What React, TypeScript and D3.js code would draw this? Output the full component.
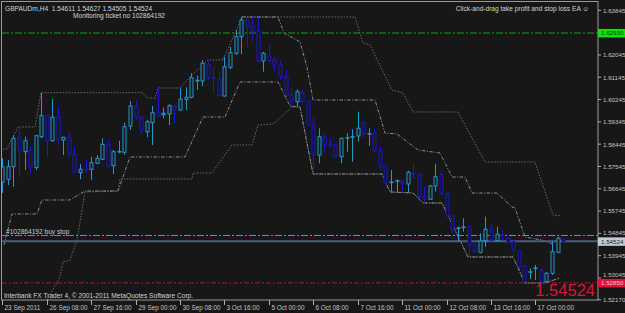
import React from "react";
import * as d3 from "d3";

const W = 625;
const H = 313;

const headerText = "GBPAUDm,H4  1.54611 1.54627 1.54505 1.54524";
const ticketText = "Monitoring ticket no 102864192";
const eaText = "Click-and-drag take profit and stop loss EA \u263A";
const orderText = "#102864192 buy stop";
const footerText = "Interbank FX Trader 4, \u00A9 2001-2011 MetaQuotes Software Corp.";
const bigPriceText = "1.54524";

const opens = [1.56919,1.57028,1.57536,1.58722,1.58141,1.58210,1.57496,1.58747,1.59594,1.58585,
1.59529,1.58613,1.58722,1.58037,1.57294,1.57415,1.57431,1.57673,1.57835,1.58452,
1.57577,1.58141,1.58117,1.59178,1.59985,1.59529,1.58948,1.59311,1.59731,1.59634,
1.59662,1.59985,1.59824,1.60255,1.60336,1.61006,1.60994,1.61667,1.61115,1.61074,
1.60388,1.61546,1.62111,1.62780,1.63454,1.63212,1.62982,1.61800,1.62002,1.61841,
1.61639,1.61167,1.60429,1.60158,1.60538,1.60187,1.59219,1.58008,1.58722,1.58452,
1.58412,1.57940,1.58682,1.58734,1.58775,1.59327,1.58855,1.58908,1.58182,1.57565,
1.56907,1.56960,1.56960,1.56838,1.57270,1.57230,1.56326,1.56221,1.56758,1.57230,
1.56435,1.55548,1.55051,1.55092,1.55116,1.54378,1.54083,1.54551,1.55051,1.54551,
1.54781,1.54648,1.54511,1.54136,1.53531,1.53289,1.53438,1.53341,1.52897,1.53236,
1.54083,1.54611];

const highs = [1.57887,1.57807,1.58815,1.59150,1.58747,1.58371,1.58815,1.60521,1.59650,1.60267,
1.59932,1.58722,1.58924,1.58343,1.57645,1.57807,1.57940,1.58008,1.58682,1.58613,
1.58210,1.58585,1.59311,1.60187,1.60187,1.59622,1.59420,1.59985,1.60699,1.59916,
1.60054,1.60025,1.60699,1.60739,1.61304,1.61207,1.61841,1.61841,1.61546,1.61369,
1.61974,1.62377,1.63051,1.63587,1.63482,1.63563,1.63523,1.62175,1.62446,1.61949,
1.61841,1.61437,1.60764,1.60659,1.60630,1.60227,1.59529,1.59085,1.58855,1.58682,
1.58452,1.58706,1.58884,1.59045,1.59755,1.59380,1.59085,1.59045,1.58343,1.57605,
1.57403,1.57028,1.57000,1.57375,1.57673,1.57294,1.56730,1.56798,1.57645,1.57335,
1.56488,1.55588,1.55116,1.55455,1.55144,1.54446,1.54850,1.55519,1.55225,1.55116,
1.54955,1.54713,1.54579,1.54176,1.53571,1.53438,1.53571,1.53438,1.53301,1.54511,
1.54713,1.54627];

const lows = [1.56475,1.56798,1.56730,1.57133,1.57403,1.57294,1.57403,1.58682,1.57940,1.58545,
1.58412,1.58008,1.57940,1.57270,1.57028,1.57270,1.57000,1.57645,1.57807,1.57512,
1.57242,1.58077,1.58008,1.59017,1.59420,1.58815,1.58722,1.58412,1.59553,1.59489,
1.59219,1.59287,1.59795,1.59824,1.60296,1.60630,1.60792,1.60994,1.60469,1.60368,
1.60360,1.61465,1.62042,1.62071,1.62377,1.62579,1.61772,1.61369,1.61708,1.61369,
1.61034,1.60336,1.59957,1.59957,1.60094,1.59178,1.57270,1.57673,1.58077,1.58319,
1.57915,1.57673,1.58141,1.57738,1.58545,1.58722,1.58371,1.58077,1.57375,1.56826,
1.56528,1.56488,1.56463,1.56488,1.57068,1.56221,1.56060,1.56193,1.56528,1.56395,
1.55519,1.54850,1.54511,1.54914,1.53906,1.54043,1.54043,1.54309,1.54511,1.54511,
1.54579,1.54446,1.53773,1.53438,1.52833,1.52994,1.52966,1.52833,1.52845,1.53168,
1.54043,1.54505];

const closes = [1.57524,1.57536,1.58682,1.58182,1.58585,1.57512,1.58787,1.59594,1.58585,1.59529,
1.58642,1.58722,1.58049,1.57310,1.57431,1.57391,1.57698,1.57875,1.58440,1.57536,
1.58141,1.58150,1.59150,1.59985,1.59529,1.58989,1.59352,1.59715,1.59582,1.59691,
1.59997,1.59824,1.60255,1.60336,1.61127,1.61022,1.61708,1.61127,1.61102,1.60401,
1.61570,1.62135,1.62780,1.63454,1.63212,1.62982,1.61800,1.62111,1.61812,1.61639,
1.61167,1.60429,1.60158,1.60562,1.60158,1.59219,1.58008,1.58747,1.58412,1.58343,
1.57940,1.58682,1.58706,1.58747,1.59085,1.58884,1.58868,1.58182,1.57536,1.56867,
1.56919,1.56972,1.56867,1.57310,1.57242,1.56326,1.56221,1.56758,1.57133,1.56463,
1.55548,1.54983,1.55064,1.55104,1.54378,1.54107,1.54539,1.55011,1.54579,1.54809,
1.54769,1.54471,1.54176,1.53502,1.52897,1.53301,1.53450,1.52897,1.53236,1.54107,
1.54648,1.54524];

const xTickBars = [0, 8, 16, 24, 32, 40, 48, 56, 64, 72, 80, 88, 96];
const xTickLabels = ["23 Sep 2011","26 Sep 08:00","27 Sep 16:00","29 Sep 00:00","30 Sep 08:00","3 Oct 16:00","5 Oct 00:00","6 Oct 08:00","7 Oct 16:00","11 Oct 00:00","12 Oct 08:00","13 Oct 16:00","17 Oct 00:00"];
const yTickLabels = ["1.63845","1.62045","1.61145","1.60245","1.59345","1.58445","1.57545","1.56645","1.55745","1.54845","1.53945","1.53045","1.52170"];

const takeProfit = 1.6293;
const buyStop = 1.54761;
const bidPrice = 1.54524;
const stopLoss = 1.5285;

// channel lines: [bar index, price]
const upperSlow: [number, number][] = [[-0.41,1.5825],[0.85,1.5825],[2.83,1.59138],[5.89,1.59138],[6.97,1.60521],[25.16,1.60521],[26.24,1.60308],[27.5,1.60308],[28.04,1.60711],[32.0,1.60711],[34.7,1.61357],[37.04,1.61841],[39.74,1.61841],[43.17,1.63575],[63.51,1.63575],[64.96,1.62526],[66.22,1.62446],[70.18,1.6063],[72.16,1.60509],[73.96,1.59743],[82.06,1.59743],[86.92,1.57726],[95.93,1.57726],[99.17,1.55588],[100.61,1.55548]];
const upperFast: [number, number][] = [[43.17,1.63575],[49.65,1.63575],[50.73,1.6293],[53.61,1.62567],[54.87,1.61558],[55.95,1.60227],[67.12,1.60227],[68.92,1.58896],[71.08,1.58855],[74.86,1.5821],[78.82,1.58089],[80.98,1.57121],[83.32,1.57121],[84.58,1.56475],[89.08,1.56475],[91.79,1.55911],[92.33,1.5587],[94.13,1.547],[97.19,1.54579],[99.17,1.54418]];
const lowerFast: [number, number][] = [[0.31,1.54378],[0.85,1.54862],[1.75,1.55628],[6.25,1.55628],[7.15,1.56193],[12.19,1.56193],[14.89,1.56556],[20.84,1.56556],[23.0,1.57928],[32.9,1.57928],[36.14,1.59541],[40.1,1.59541],[42.8,1.60953],[49.65,1.60953],[51.81,1.59985],[53.61,1.59945],[55.95,1.57242],[68.38,1.57242],[69.82,1.56516],[73.96,1.56475],[75.76,1.56072],[79.18,1.56072],[83.86,1.53894],[91.97,1.53894],[94.13,1.52845],[97.73,1.52845],[100.43,1.53047]];
const lowerSlow: [number, number][] = [[8.05,1.52159],[10.39,1.53087],[10.93,1.53692],[12.19,1.53773],[13.45,1.54579],[14.89,1.56516],[20.84,1.56556],[21.2,1.5704],[34.16,1.5704],[34.34,1.57282],[37.76,1.57282],[41.36,1.58412],[44.97,1.58412],[46.05,1.59219],[48.75,1.59259],[52.17,1.59945],[53.61,1.59945],[55.95,1.57242],[68.38,1.57242],[69.82,1.56516],[73.96,1.56475],[75.76,1.56072],[79.18,1.56072],[83.86,1.53894],[91.97,1.53894],[94.13,1.52845],[97.73,1.52845],[100.43,1.53047]];

const BG = "#171717";
const BULL = "#2198d0";
const BEAR = "#1818c8";
const FONT = "'Liberation Sans', Arial, sans-serif";

export default function App() {
  const x = d3.scaleLinear().domain([0, 101]).range([2.3, 2.3 + 101 * 5.553]);
  const y = d3.scaleLinear().domain([1.5217, 1.63845]).range([299.7, 10.3]);
  const line = d3.line<[number, number]>().x((d) => x(d[0])).y((d) => y(d[1]));
  const L = { left: 2, top: 2, right: 598, bottom: 300 };

  const candles = opens.map((o, i) => {
    const c = closes[i];
    const bull = c >= o;
    const col = bull ? BULL : BEAR;
    const cx = Math.round(x(i)) + 0.5;
    const top = y(Math.max(o, c));
    const bot = y(Math.min(o, c));
    return (
      <g key={i}>
        <line x1={cx} x2={cx} y1={y(highs[i])} y2={y(lows[i])} stroke={col} strokeWidth={1} />
        <rect x={cx - 1.5} y={top} width={3} height={Math.max(bot - top, 0.6)} fill={BG} stroke={col} strokeWidth={1} />
      </g>
    );
  });

  const hLine = (p: number, color: string, dash?: string, w = 1) => (
    <line x1={L.left} x2={L.right} y1={y(p)} y2={y(p)} stroke={color} strokeWidth={w} strokeDasharray={dash} />
  );

  const boxPrices = [takeProfit, bidPrice, stopLoss];
  const priceBox = (p: number, fill: string, textColor: string) => (
    <g>
      <rect x={598} y={y(p) - 4} width={27} height={8.5} fill={fill} />
      <text x={601} y={y(p) + 2.4} fontSize={6.2} fill={textColor} fontFamily={FONT}>{p.toFixed(5)}</text>
    </g>
  );

  return (
    <svg width={W} height={H} style={{ position: "absolute", left: 0, top: 0, background: BG }}>
      <rect x={0} y={0} width={W} height={H} fill={BG} />
      <defs>
        <clipPath id="plot">
          <rect x={L.left} y={L.top} width={L.right - L.left} height={L.bottom - L.top} />
        </clipPath>
      </defs>
      <g clipPath="url(#plot)">
        <path d={line(upperSlow) || ""} fill="none" stroke="#6e6868" strokeWidth={1} strokeDasharray="1.5,1.5" />
        <path d={line(lowerSlow) || ""} fill="none" stroke="#6e6868" strokeWidth={1} strokeDasharray="1.5,1.5" />
        <path d={line(upperFast) || ""} fill="none" stroke="#8a8a8a" strokeWidth={1} strokeDasharray="3.5,1.5,1,1.5" />
        <path d={line(lowerFast) || ""} fill="none" stroke="#8a8a8a" strokeWidth={1} strokeDasharray="3.5,1.5,1,1.5" />
        {hLine(takeProfit, "#1e9a1e", "7,2,2,2")}
        {hLine(buyStop, "#1fb0b8", "7,2,2,2")}
        {hLine(stopLoss, "#b0142c", "5,2,2,2")}
        {hLine(bidPrice, "#4e5c7c", undefined, 2)}
        {candles}
      </g>
      {/* frame */}
      <rect x={1.5} y={1.5} width={L.right - 1.5} height={L.bottom - 1.5} fill="none" stroke="#9a9a9a" strokeWidth={1} />
      {/* y axis */}
      {yTickLabels.map((t) => {
        const yy = y(+t);
        let ty = yy + 2.4;
        boxPrices.forEach((bp) => {
          const by = y(bp);
          if (Math.abs(by - yy) < 8.5 && Math.abs(by - yy) > 2) {
            ty = by > yy ? Math.min(ty, by - 6) : Math.max(ty, by + 10);
          }
        });
        return (
          <g key={t}>
            <line x1={598} x2={601} y1={yy} y2={yy} stroke="#b0b0b0" />
            <text x={603} y={ty} fontSize={6.2} fill="#c4c4c4" fontFamily={FONT}>{t}</text>
          </g>
        );
      })}
      {priceBox(takeProfit, "#10e010", "#0a3a0a")}
      {priceBox(bidPrice, "#c4c8d6", "#202020")}
      {priceBox(stopLoss, "#dc143c", "#f0c8d0")}
      {/* x axis */}
      {xTickBars.map((b, k) => {
        const xx = Math.round(x(b)) + 0.5;
        return (
          <g key={b}>
            <line x1={xx} x2={xx} y1={300} y2={305} stroke="#b0b0b0" />
            <text x={xx + 2} y={309.5} fontSize={6.4} fill="#c4c4c4" fontFamily={FONT}>{xTickLabels[k]}</text>
          </g>
        );
      })}
      {/* texts */}
      <text x={5} y={11} fontSize={6.6} fill="#d4d4d4" fontFamily={FONT} style={{ whiteSpace: "pre" }}>{headerText}</text>
      <text x={73} y={17.5} fontSize={6.6} fill="#d4d4d4" fontFamily={FONT}>{ticketText}</text>
      <text x={589} y={11} fontSize={6.6} fill="#d4d4d4" fontFamily={FONT} textAnchor="end">{eaText}</text>
      <text x={6} y={234} fontSize={6.6} fill="#c8c8c8" fontFamily={FONT}>{orderText}</text>
      <text x={4} y={298} fontSize={6.6} fill="#d4d4d4" fontFamily={FONT}>{footerText}</text>
      <text x={595} y={296} fontSize={16.5} fill="#dc143c" fontFamily={FONT} textAnchor="end">{bigPriceText}</text>
    </svg>
  );
}
